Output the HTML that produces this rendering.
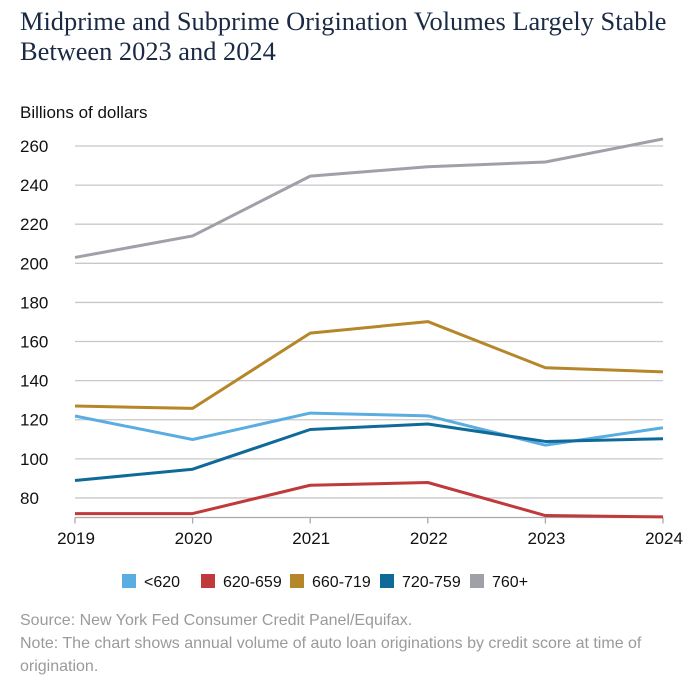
<!DOCTYPE html>
<html><head><meta charset="utf-8"><style>
body{margin:0;background:#fff;width:698px;height:692px;overflow:hidden;font-family:"Liberation Sans",sans-serif}
.title{position:absolute;left:20px;top:6px;font-family:"Liberation Serif",serif;font-size:26.4px;line-height:30px;color:#1a2a44;white-space:nowrap}
.note{position:absolute;left:20px;font-size:16px;color:#9a9a9a;line-height:23px}
</style></head><body>
<div class="title">Midprime and Subprime Origination Volumes Largely Stable<br>Between 2023 and 2024</div>
<svg id="chart" width="698" height="692" style="position:absolute;left:0;top:0"></svg>
<div class="note" style="top:609px">Source: New York Fed Consumer Credit Panel/Equifax.</div>
<div class="note" style="top:632px;width:670px">Note: The chart shows annual volume of auto loan originations by credit score at time of origination.</div>
<script>
const years=["2019","2020","2021","2022","2023","2024"];
const yTicks=[80,100,120,140,160,180,200,220,240,260];
const seriesNames=["<620","620-659","660-719","720-759","760+"];
const s620=[121.9,109.9,123.4,122,107,115.9];
const s620_659=[72,72,86.5,87.9,71,70.3];
const s660_719=[127,125.8,164.3,170.2,146.6,144.5];
const s720_759=[88.9,94.7,115,117.8,108.9,110.3];
const s760=[203,214,244.6,249.4,251.8,263.6];
const colors=["#5aade0","#c0393b","#b5862a","#0f6a99","#a0a0a8"];
const svg=document.getElementById('chart');
const NS='http://www.w3.org/2000/svg';
const x0=75,x1=663,yMin=70,yMax=260,py0=517.5,py1=146;
const X=i=>x0+(x1-x0)*i/(years.length-1);
const Y=v=>py0-(v-yMin)*(py0-py1)/(yMax-yMin);
function mk(t,a){const e=document.createElementNS(NS,t);for(const k in a)e.setAttribute(k,a[k]);svg.appendChild(e);return e;}
let yt=mk('text',{x:20,y:118,'font-size':17,fill:'#111'});yt.textContent='Billions of dollars';


yTicks.forEach(v=>{
 const l=mk('line',{x1:75,x2:663,y1:Y(v),y2:Y(v),stroke:'#c8c8c8','stroke-width':1.3});
 
 
 const t=mk('text',{x:20,y:Y(v)+6,'font-size':17,fill:'#111'});t.textContent=v;
 
 
});
const ax=mk('line',{x1:75,x2:663,y1:py0,y2:py0,stroke:'#aaa','stroke-width':1.3});


years.forEach((y,i)=>{
 const tk=mk('line',{x1:X(i),x2:X(i),y1:py0,y2:py0+6,stroke:'#aaa','stroke-width':1.3});
 
 
 const t=mk('text',{x:X(i)+1,y:544,'font-size':17,fill:'#111','text-anchor':'middle'});t.textContent=y;
 
 
});
[s620,s620_659,s660_719,s720_759,s760].forEach((d,k)=>{
 const p=mk('polyline',{points:d.map((v,i)=>X(i)+','+Y(v)).join(' '),fill:'none',stroke:colors[k],'stroke-width':3,'stroke-linejoin':'round'});
 
 
});
const lx=[122,201,290,380,470];
seriesNames.forEach((n,k)=>{
 const r=mk('rect',{x:lx[k],y:574,width:14,height:14,fill:colors[k]});
 
 
 const t=mk('text',{x:lx[k]+22,y:587,'font-size':16,fill:'#111'});t.textContent=n;
 
 
});
</script>
</body></html>
